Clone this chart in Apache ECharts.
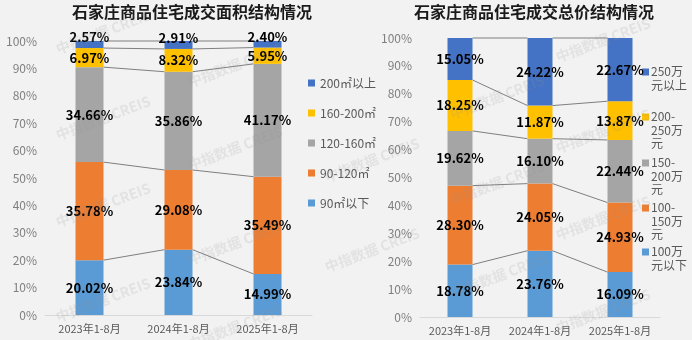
<!DOCTYPE html>
<html>
<head>
<meta charset="utf-8">
<script src="https://cdn.jsdelivr.net/npm/echarts@6/dist/echarts.min.js"></script>
<style>
  html, body { margin: 0; padding: 0; background: #f2f2f2; }
  #chart { width: 692px; height: 340px; }
</style>
</head>
<body>
<div id="chart"></div>
<script>
// Periods shown on both category axes
const periods = ['2023年1-8月', '2024年1-8月', '2025年1-8月'];

// Transaction area structure (% of total), bottom to top
const areaNames = ['90㎡以下', '90-120㎡', '120-160㎡', '160-200㎡', '200㎡以上'];
const areaUnder90 = [20.02, 23.84, 14.99];
const area90to120 = [35.78, 29.08, 35.49];
const area120to160 = [34.66, 35.86, 41.17];
const area160to200 = [6.97, 8.32, 5.95];
const areaOver200 = [2.57, 2.91, 2.40];

// Transaction total-price structure (% of total), bottom to top
const priceNames = ['100万\n元以下', '100-\n150万\n元', '150-\n200万\n元', '200-\n250万\n元', '250万\n元以上'];
const priceUnder100 = [18.78, 23.76, 16.09];
const price100to150 = [28.30, 24.05, 24.93];
const price150to200 = [19.62, 16.10, 22.44];
const price200to250 = [18.25, 11.87, 13.87];
const priceOver250 = [15.05, 24.22, 22.67];

// Percentage axis
const pctMin = 0, pctMax = 100, pctStep = 10;

const COLORS = ['#5B9BD5', '#ED7D31', '#A5A5A5', '#FFC000', '#4472C4'];
const FONT = '"Noto Sans CJK SC", "Noto Sans", sans-serif';
const AREA_BAR_W = 28;
const PRICE_BAR_W = 25;

const areaSegments = [areaUnder90, area90to120, area120to160, area160to200, areaOver200];
const priceSegments = [priceUnder100, price100to150, price150to200, price200to250, priceOver250];

function stackedBars(names, segments, axisIdx, barW, stackId) {
  return segments.map((vals, k) => ({
    name: names[k],
    type: 'bar',
    stack: stackId,
    xAxisIndex: axisIdx,
    yAxisIndex: axisIdx,
    barWidth: barW,
    data: vals,
    itemStyle: { color: COLORS[k] },
    z: 2,
    label: {
      show: true,
      position: 'inside',
      offset: k === segments.length - 1 && axisIdx === 0 ? [0, -7] : [0, 0],
      formatter: p => p.value.toFixed(2) + '%',
      color: '#000',
      fontFamily: FONT,
      fontWeight: 'bold',
      fontSize: 13
    }
  }));
}

// Series lines joining each segment boundary between neighbouring bars
function seriesLines(segments, axisIdx, barW) {
  const cum = periods.map(() => 0);
  const data = [];
  segments.forEach(vals => {
    vals.forEach((v, i) => { cum[i] += v; });
    for (let i = 0; i < periods.length - 1; i++) {
      data.push([i, Math.min(cum[i], pctMax), Math.min(cum[i + 1], pctMax)]);
    }
  });
  return {
    type: 'custom',
    xAxisIndex: axisIdx,
    yAxisIndex: axisIdx,
    silent: true,
    z: 1,
    encode: { x: 0, y: [1, 2] },
    data: data,
    renderItem: function (params, api) {
      const i = api.value(0);
      const a = api.coord([i, api.value(1)]);
      const b = api.coord([i + 1, api.value(2)]);
      return {
        type: 'line',
        shape: { x1: a[0] + barW / 2, y1: a[1], x2: b[0] - barW / 2, y2: b[1] },
        style: { stroke: '#7f7f7f', lineWidth: 1 }
      };
    }
  };
}

function valueAxis(gridIndex) {
  return {
    type: 'value', gridIndex: gridIndex,
    min: pctMin, max: pctMax, interval: pctStep,
    axisLine: { show: false }, axisTick: { show: false }, splitLine: { show: false },
    axisLabel: { formatter: '{value}%', color: '#7f7f7f', fontSize: 12, fontFamily: FONT, margin: 8 }
  };
}

function categoryAxis(gridIndex) {
  return {
    type: 'category', gridIndex: gridIndex, data: periods,
    axisLine: { lineStyle: { color: '#d9d9d9' } },
    axisTick: { show: false },
    axisLabel: { interval: 0, color: '#595959', fontSize: 11, fontFamily: FONT, margin: 8 }
  };
}

// Legend for the price chart (wrapped, multi-line names)
const priceLegendCenters = [72, 117, 163, 208, 252];
const priceLegend = priceNames.slice().reverse().map((name, j) => {
  const c = priceLegendCenters[j];
  return {
    type: 'group',
    children: [
      { type: 'rect', shape: { x: 642, y: c - 3.5, width: 7, height: 7 },
        style: { fill: COLORS[COLORS.length - 1 - j] } },
      { type: 'text', x: 651, y: c - 7,
        style: { text: name, fill: '#595959', font: '12px ' + FONT, lineHeight: 13.5, verticalAlign: 'top' } }
    ]
  };
});

// Light tiled watermark
const markSpots = [
  [103, 32], [103, 118], [103, 205], [103, 300],
  [235, 65], [235, 148], [235, 243], [235, 327],
  [372, 160], [372, 250],
  [497, 97], [497, 183], [500, 275],
  [603, 40], [603, 131], [603, 218], [603, 311]
];
const watermarks = markSpots.map(([x, y]) => ({
  type: 'text', x: x, y: y, rotation: 0.36, z: 100, silent: true,
  style: {
    text: '中指数据 CREIS', fill: 'rgba(150,150,150,0.17)',
    font: 'bold 14px ' + FONT, align: 'center', verticalAlign: 'middle'
  }
}));

const chart = echarts.init(document.getElementById('chart'), null, { renderer: 'canvas' });
chart.setOption({
  backgroundColor: '#f2f2f2',
  animation: false,
  title: [
    { text: '石家庄商品住宅成交面积结构情况', left: 192, top: 4, textAlign: 'center', padding: 0,
      textStyle: { fontSize: 16, fontWeight: 'bold', color: '#1a1a1a', fontFamily: FONT } },
    { text: '石家庄商品住宅成交总价结构情况', left: 534, top: 4, textAlign: 'center', padding: 0,
      textStyle: { fontSize: 16, fontWeight: 'bold', color: '#1a1a1a', fontFamily: FONT } }
  ],
  legend: {
    orient: 'vertical', left: 308, top: 76,
    itemWidth: 7, itemHeight: 7, itemGap: 16, padding: 0,
    icon: 'rect',
    data: areaNames.slice().reverse(),
    textStyle: { color: '#595959', fontSize: 12, fontFamily: FONT, lineHeight: 14 }
  },
  grid: [
    { left: 45, top: 41, width: 267, height: 274 },
    { left: 420, top: 38, width: 240, height: 279 }
  ],
  xAxis: [categoryAxis(0), categoryAxis(1)],
  yAxis: [valueAxis(0), valueAxis(1)],
  series: [
    ...stackedBars(areaNames, areaSegments, 0, AREA_BAR_W, 'area'),
    seriesLines(areaSegments, 0, AREA_BAR_W),
    ...stackedBars(priceNames, priceSegments, 1, PRICE_BAR_W, 'price'),
    seriesLines(priceSegments, 1, PRICE_BAR_W)
  ],
  graphic: [...priceLegend, ...watermarks]
});
</script>
</body>
</html>
